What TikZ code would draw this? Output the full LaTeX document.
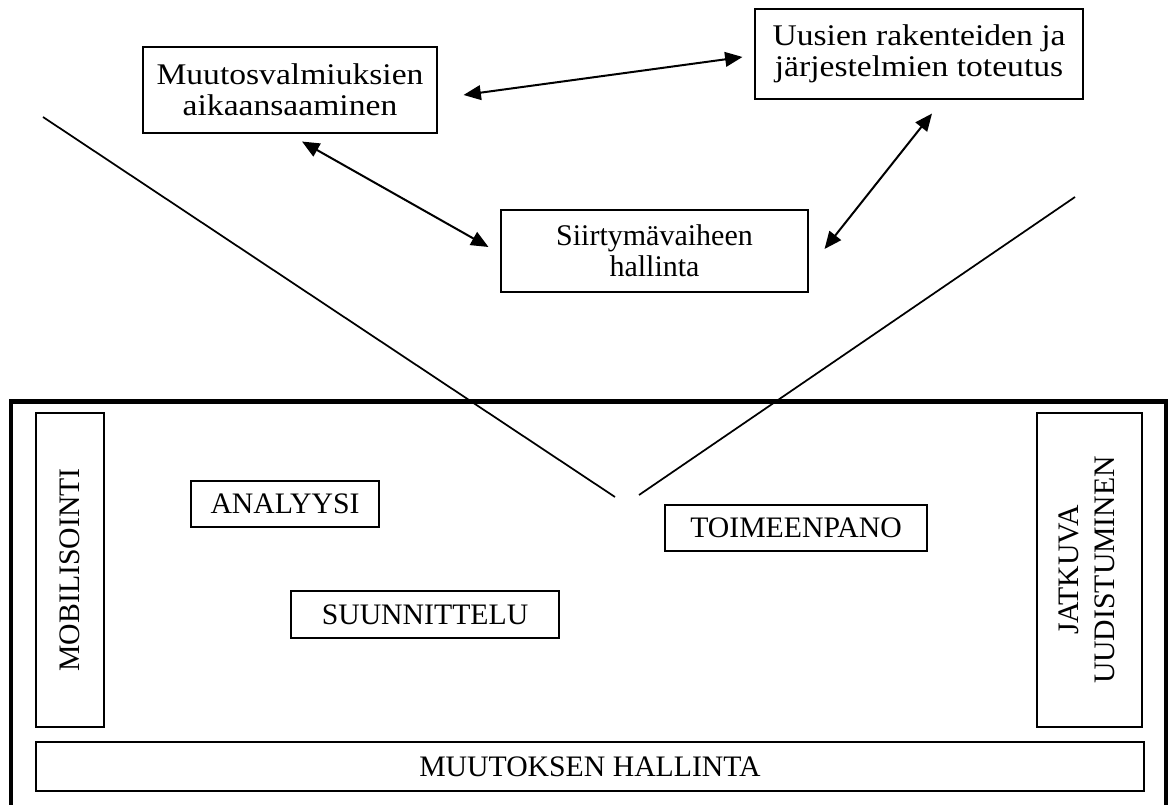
\documentclass[tikz,border=0pt]{standalone}
\usepackage{fontspec}
\setmainfont{Liberation Serif}
\newfontfamily\widefont[FakeStretch=1.12]{Liberation Serif}
\usetikzlibrary{arrows.meta}
\tikzset{
  px/.style={x=0.75pt,y=-0.75pt},
  box/.style 2 args={draw=black, line width=0.8pt, inner sep=0pt, align=center,
    minimum width=#1*0.75pt, minimum height=#2*0.75pt},
  upper/.style={font=\widefont\fontsize{22.5pt}{23.5pt}\selectfont},
  lower/.style={font=\fontsize{22.5pt}{23.5pt}\selectfont},
  caps/.style={font=\fontsize{22.3pt}{27pt}\selectfont},
  tip/.tip={Triangle[length=13pt,width=11pt]},
  arr/.style={tip-tip, line width=1.5pt},
  diag/.style={line width=1.3pt},
  frame/.style={line width=3.5pt}
}
\begin{document}
\begin{tikzpicture}[px]
\useasboundingbox (0,0) rectangle (1173,805);
% outer frame
\draw[frame] (11,401.5) rectangle (1166,808);
% diagonal lines
\coordinate (l1a) at (43,117);
\coordinate (l1b) at (615,497);
\coordinate (l2a) at (1075,197);
\coordinate (l2b) at (639,495);
\draw[diag] (l1a) -- (l1b);
\draw[diag] (l2a) -- (l2b);
% upper boxes
\node[box={294}{86}, upper] (muutos) at (290,90) {Muutosvalmiuksien\\aikaansaaminen};
\node[box={328}{90}, upper] (uusien) at (919,54) {Uusien rakenteiden ja\\järjestelmien toteutus};
\node[box={307}{82}, lower] (siirt) at (654.5,251) {Siirtymävaiheen\\hallinta};
% arrows
\draw[arr] ([shift={(26,5)}]muutos.east) -- ([shift={(-12,3)}]uusien.west);
\draw[arr] ([shift={(12,8)}]muutos.south) -- ([shift={(-12,-4)}]siirt.west);
\draw[arr] ([shift={(16,-2)}]siirt.east) -- ([shift={(13,14)}]uusien.south);
% lower boxes
\node[box={68}{314}, caps] (mobil) at (70,570) {\rotatebox{90}{MOBILISOINTI}};
\node[box={105}{314}, caps] (jatk) at (1089.5,570) {\rotatebox{90}{\begin{tabular}{@{}c@{}}JATKUVA\\UUDISTUMINEN\end{tabular}}};
\node[box={188}{46}, caps] (analyysi) at (285,504) {ANALYYSI};
\node[box={268}{47}, caps] (suunn) at (425,614.5) {SUUNNITTELU};
\node[box={262}{46}, caps] (toim) at (796,528) {TOIMEENPANO};
\node[box={1108}{49}, caps] (muutoksen) at (590,766.5) {MUUTOKSEN HALLINTA};
\end{tikzpicture}
\end{document}
